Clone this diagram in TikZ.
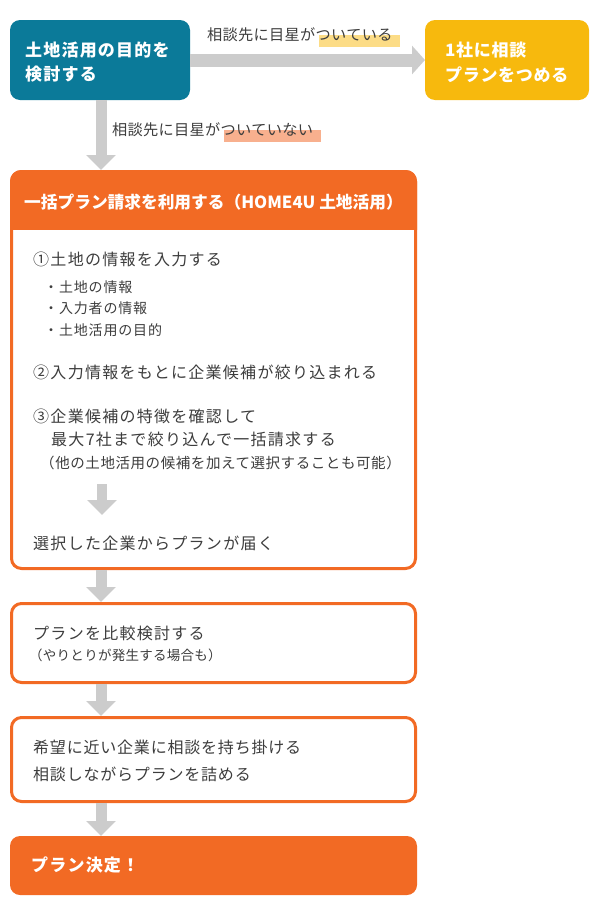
\documentclass[tikz,border=0pt]{standalone}
\usepackage{fontspec}
\setmainfont{Noto Sans CJK JP}
\usetikzlibrary{arrows.meta}
\definecolor{tealc}{HTML}{0B7A99}
\definecolor{yelc}{HTML}{F7B90D}
\definecolor{orangec}{HTML}{F26A24}
\definecolor{arrowgray}{HTML}{CCCCCC}
\definecolor{textgray}{HTML}{3D3D3D}
\definecolor{hlyellow}{HTML}{FCDC86}
\definecolor{hlsalmon}{HTML}{F8B08E}
\newcommand{\fs}[3]{\fontsize{#1}{#2}\selectfont\addfontfeature{LetterSpace=#3}}
\begin{document}
\begin{tikzpicture}[x=1pt,y=-1pt,
  flowarrow/.style={draw=arrowgray, line width=11pt, -{Triangle[width=29pt,length=15pt]}},
  harrow/.style={draw=arrowgray, line width=13pt, -{Triangle[width=28pt,length=13pt]}},
  fillbox/.style={anchor=north west, inner sep=0pt, outer sep=0pt, rounded corners=10pt},
  outlinebox/.style={anchor=north west, draw=orangec, fill=white, line width=3pt, rounded corners=10pt, minimum width=404pt, inner sep=0pt},
  whtxt/.style={anchor=west, inner sep=0pt, text=white, font=\bfseries\fs{17}{20}{7}},
  hdtxt/.style={anchor=west, inner sep=0pt, text=white, font=\bfseries\fs{16.7}{20}{0}},
  lbl/.style={anchor=west, inner sep=0pt, text=textgray, font=\fs{15.2}{18}{2}},
  bodytxt/.style={anchor=west, inner sep=0pt, text=textgray, font=\fs{16}{18}{8}},
  subtxt/.style={anchor=west, inner sep=0pt, text=textgray, font=\fs{14}{16}{6}},
  smalltxt/.style={anchor=west, inner sep=0pt, text=textgray, font=\fs{14.5}{16}{4}},
  smalltxtb/.style={anchor=west, inner sep=0pt, text=textgray, font=\fs{13.5}{16}{2}}
]
\useasboundingbox (0,0) rectangle (600,916);
\coordinate (col) at (101,0);

% top row
\node[fillbox, fill=tealc, minimum width=180pt, minimum height=80pt] (blue) at (10,20) {};
\node[whtxt] (b1) at (25,50) {土地活用の目的を};
\node[whtxt] (b2) at (25,74.5) {検討する};
\node[fillbox, fill=yelc, minimum width=164pt, minimum height=80pt] (yel) at (425,20) {};
\node[whtxt, font=\bfseries\fs{17}{20}{4}] (y1) at (445,50) {1社に相談};
\node[whtxt, font=\bfseries\fs{17}{20}{4}] (y2) at (445,74.5) {プランをつめる};

\fill[hlyellow] (319,35) rectangle (400,47);
\node[lbl] (l1) at (207,35) {相談先に目星がついている};
\fill[hlsalmon] (224,130) rectangle (321,142);
\node[lbl] (l2) at (112,130) {相談先に目星がついていない};

% big box
\node[outlinebox, minimum height=397pt] (big) at (10,170) {};
\begin{scope}
  \clip (0,0) rectangle (600,229);
  \fill[orangec, rounded corners=11pt] (10,170) rectangle (417,270);
\end{scope}
\node[hdtxt] (hd) at (24,202) {一括プラン請求を利用する（HOME4U 土地活用）};

\draw[harrow] (blue.east) -- (yel.west);
\draw[flowarrow] (blue.south -| col) -- (big.north -| col);

\node[bodytxt] (s1) at (33,259) {①土地の情報を入力する};
\node[subtxt] (s1a) at (44,287) {・土地の情報};
\node[subtxt] (s1b) at (44,308) {・入力者の情報};
\node[subtxt] (s1c) at (44,330) {・土地活用の目的};
\node[bodytxt] (s2) at (33,372) {②入力情報をもとに企業候補が絞り込まれる};
\node[bodytxt] (s3) at (33,416) {③企業候補の特徴を確認して};
\node[bodytxt] (s3b) at (51,439) {最大7社まで絞り込んで一括請求する};
\node[smalltxt] (s3c) at (40,463) {（他の土地活用の候補を加えて選択することも可能）};
\coordinate (ia) at (102,484);
\coordinate (ib) at (102,515);
\draw[flowarrow, line width=10.5pt] (ia) -- (ib);
\node[bodytxt] (s4) at (33,543) {選択した企業からプランが届く};

% box 2
\node[outlinebox, minimum height=79pt] (box2) at (10,602) {};
\node[bodytxt] (t1) at (33,633) {プランを比較検討する};
\node[smalltxtb] (t2) at (29,655) {（やりとりが発生する場合も）};
\draw[flowarrow] (big.south -| col) -- (box2.north -| col);

% box 3
\node[outlinebox, minimum height=84pt] (box3) at (10,716) {};
\node[bodytxt, font=\fs{16}{18}{5}] (u1) at (33,747) {希望に近い企業に相談を持ち掛ける};
\node[bodytxt, font=\fs{16}{18}{5}] (u2) at (33,774) {相談しながらプランを詰める};
\draw[flowarrow] (box2.south -| col) -- (box3.north -| col);

% final
\node[fillbox, fill=orangec, minimum width=407pt, minimum height=59pt] (fin) at (10,836) {};
\node[whtxt] (f1) at (31,865) {プラン決定！};
\draw[flowarrow] (box3.south -| col) -- (fin.north -| col);
\end{tikzpicture}
\end{document}
